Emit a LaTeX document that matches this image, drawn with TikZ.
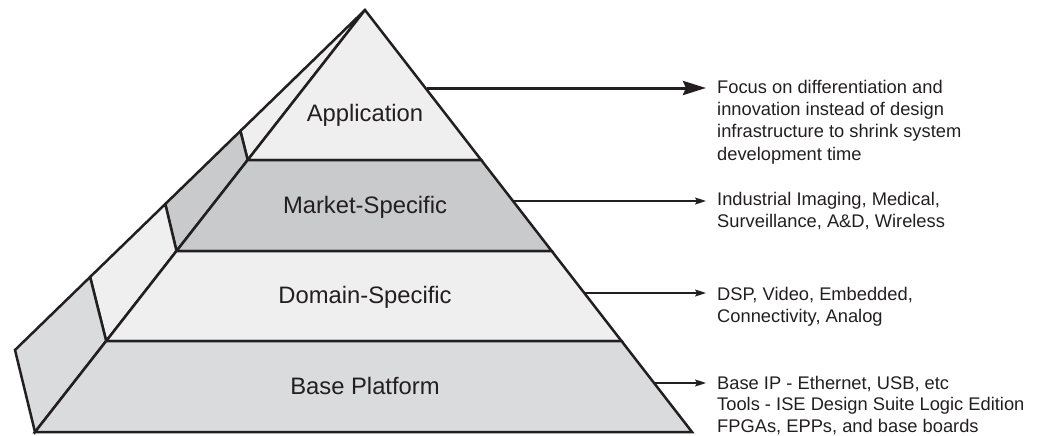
\documentclass[tikz,border=0pt]{standalone}
\usepackage{fontspec}
\setmainfont{Liberation Sans}
\usetikzlibrary{arrows.meta}
\definecolor{lightband}{HTML}{EEEFEE}
\definecolor{darkband}{HTML}{C9CACB}
\definecolor{baseband}{HTML}{DADBDC}
\definecolor{ink}{HTML}{231F20}
\tikzset{
  face/.style={draw=ink, line width=2.5pt},
  bandlabel/.style={anchor=base, inner sep=0pt, text=ink, font=\fontsize{23.8}{28}\selectfont},
  note/.style={anchor=north west, inner sep=0pt, align=left, text=ink, font=\fontsize{18.3}{22.2}\selectfont},
  bigarrow/.style={draw=ink, line width=3pt, -{Stealth[length=23pt,width=14pt,inset=3pt]}},
  smallarrow/.style={draw=ink, line width=1.1pt, -{Stealth[length=11pt,width=7pt,inset=2pt]}}
}
\begin{document}
\begin{tikzpicture}[x=1pt,y=-1pt]
\useasboundingbox (0,0) rectangle (1041,436);
% key points
\coordinate (A) at (365,10);
\coordinate (F1) at (247.7,160);
\coordinate (F2) at (176.5,251);
\coordinate (F3) at (106.2,341);
\coordinate (F4) at (35,432);
\coordinate (R1) at (481.2,160);
\coordinate (R2) at (551.7,251);
\coordinate (R3) at (621.5,341);
\coordinate (R4) at (692,432);
\coordinate (B1) at (240.4,131);
\coordinate (B2) at (165.3,204);
\coordinate (B3) at (90.1,277);
\coordinate (B4) at (15,350);
% side face
\filldraw[face, fill=lightband] (A) -- (F1) -- (B1) -- cycle;
\filldraw[face, fill=darkband] (F1) -- (F2) -- (B2) -- (B1) -- cycle;
\filldraw[face, fill=lightband] (F2) -- (F3) -- (B3) -- (B2) -- cycle;
\filldraw[face, fill=baseband] (F3) -- (F4) -- (B4) -- (B3) -- cycle;
% front bands
\filldraw[face, fill=lightband] (A) -- (R1) -- (F1) -- cycle;
\filldraw[face, fill=darkband] (F1) -- (R1) -- (R2) -- (F2) -- cycle;
\filldraw[face, fill=lightband] (F2) -- (R2) -- (R3) -- (F3) -- cycle;
\filldraw[face, fill=baseband] (F3) -- (R3) -- (R4) -- (F4) -- cycle;
% band labels
\node[bandlabel] (app) at (365,121.7) {Application};
\node[bandlabel] (mkt) at (365,213.5) {Market-Specific};
\node[bandlabel] (dom) at (365,303.5) {Domain-Specific};
\node[bandlabel] (base) at (365,394) {Base Platform};
% arrows
\coordinate (s1) at (427,88);
\coordinate (e1) at (706,88);
\coordinate (s2) at (513,201);
\coordinate (e2) at (706,201);
\coordinate (s3) at (585,293);
\coordinate (e3) at (706,293);
\coordinate (s4) at (655,383);
\coordinate (e4) at (706,383);
\draw[bigarrow] (s1) -- (e1);
\draw[smallarrow] (s2) -- (e2);
\draw[smallarrow] (s3) -- (e3);
\draw[smallarrow] (s4) -- (e4);
% notes
\node[note] (n1) at (717,80) {Focus on differentiation and\\innovation instead of design\\infrastructure to shrink system\\development time};
\node[note] (n2) at (717,192) {Industrial Imaging, Medical,\\Surveillance, A\&D, Wireless};
\node[note] (n3) at (717,287) {DSP, Video, Embedded,\\Connectivity, Analog};
\node[note, font=\fontsize{18.3}{21.4}\selectfont] (n4) at (717,376) {Base IP - Ethernet, USB, etc\\Tools - ISE Design Suite Logic Edition\\FPGAs, EPPs, and base boards};
\end{tikzpicture}
\end{document}
